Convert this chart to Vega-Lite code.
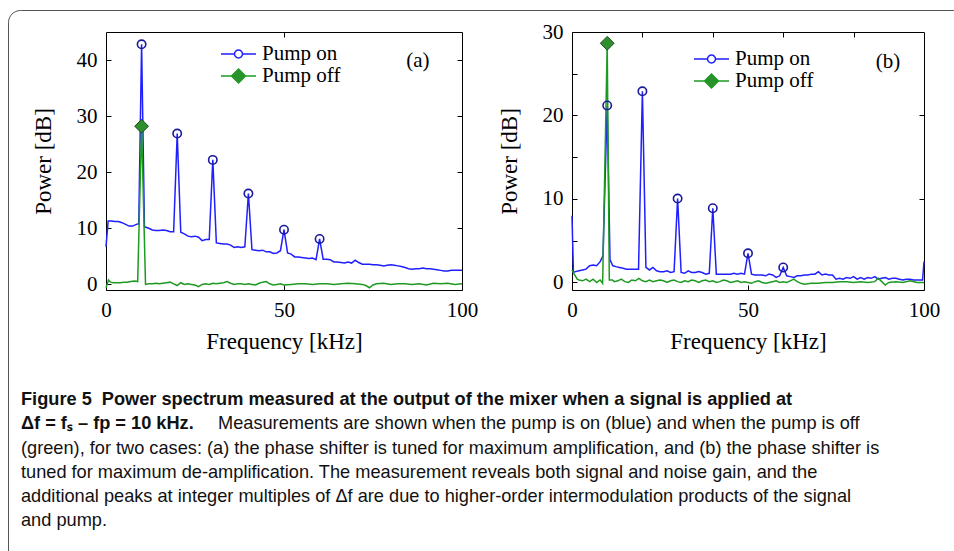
{
  "$schema": "https://vega.github.io/schema/vega-lite/v6.json",
  "background": "white",
  "padding": {"left": 7, "top": 9, "right": 0, "bottom": 0},
  "datasets": {
    "aOn": [{"f":0,"p":6.7},{"f":0.6,"p":11.3},{"f":1.5,"p":11.3},{"f":2.5,"p":11.2},{"f":3.5,"p":11.2},{"f":4.5,"p":11.0},{"f":5.5,"p":10.7},{"f":6.5,"p":10.4},{"f":7.5,"p":10.4},{"f":8.5,"p":10.7},{"f":9.2,"p":10.8},{"f":10,"p":42.8},{"f":10.8,"p":10.3},{"f":12,"p":10.0},{"f":13,"p":9.7},{"f":14,"p":9.6},{"f":15,"p":9.6},{"f":16,"p":9.7},{"f":17,"p":9.6},{"f":18,"p":9.4},{"f":19,"p":9.4},{"f":20,"p":26.9},{"f":21,"p":9.3},{"f":22,"p":9.0},{"f":23,"p":8.6},{"f":24,"p":8.5},{"f":25,"p":8.6},{"f":26,"p":8.4},{"f":27,"p":7.8},{"f":28,"p":8.0},{"f":29,"p":8.0},{"f":30,"p":22.2},{"f":31,"p":7.4},{"f":32,"p":7.3},{"f":33,"p":7.2},{"f":34,"p":7.2},{"f":35,"p":7.0},{"f":36,"p":6.6},{"f":37,"p":6.7},{"f":38,"p":6.6},{"f":39,"p":6.7},{"f":40,"p":16.2},{"f":41,"p":6.2},{"f":42,"p":6.1},{"f":43,"p":6.0},{"f":44,"p":6.1},{"f":45,"p":5.8},{"f":46,"p":5.8},{"f":47,"p":5.5},{"f":48,"p":5.6},{"f":49,"p":6.0},{"f":50,"p":9.75},{"f":51,"p":5.6},{"f":52,"p":5.4},{"f":53,"p":4.9},{"f":54,"p":4.9},{"f":55,"p":4.8},{"f":56,"p":4.7},{"f":57,"p":4.6},{"f":58,"p":4.7},{"f":59,"p":4.4},{"f":60,"p":8.1},{"f":61,"p":4.5},{"f":62,"p":4.5},{"f":63,"p":4.4},{"f":64,"p":4.0},{"f":65,"p":4.0},{"f":66,"p":3.9},{"f":67,"p":3.8},{"f":68,"p":4.0},{"f":69,"p":3.8},{"f":70,"p":4.3},{"f":71,"p":3.9},{"f":72,"p":3.6},{"f":73,"p":3.6},{"f":74,"p":3.6},{"f":75,"p":3.5},{"f":76,"p":3.5},{"f":77,"p":3.4},{"f":78,"p":3.3},{"f":79,"p":3.4},{"f":80,"p":3.5},{"f":81,"p":3.4},{"f":82,"p":3.3},{"f":83,"p":3.2},{"f":84,"p":3.0},{"f":85,"p":2.8},{"f":86,"p":2.7},{"f":87,"p":2.8},{"f":88,"p":2.8},{"f":89,"p":2.9},{"f":90,"p":2.8},{"f":91,"p":2.8},{"f":92,"p":2.7},{"f":93,"p":2.6},{"f":94,"p":2.5},{"f":95,"p":2.4},{"f":96,"p":2.4},{"f":97,"p":2.5},{"f":98,"p":2.5},{"f":99,"p":2.5},{"f":100,"p":2.5}],
    "aOff": [{"f":0,"p":-0.6},{"f":0.7,"p":0.8},{"f":1.3,"p":0.4},{"f":2,"p":0.3},{"f":3,"p":0.3},{"f":4,"p":0.3},{"f":5,"p":0.4},{"f":6,"p":0.4},{"f":7,"p":0.5},{"f":8,"p":0.6},{"f":8.9,"p":0.5},{"f":10,"p":28.2},{"f":11.1,"p":0.0},{"f":12,"p":0.1},{"f":13,"p":0.1},{"f":14,"p":0.2},{"f":15,"p":0.1},{"f":16,"p":0.2},{"f":17,"p":0.3},{"f":18,"p":0.4},{"f":19,"p":0.1},{"f":20,"p":-0.2},{"f":21,"p":0.3},{"f":22,"p":0.0},{"f":23,"p":0.1},{"f":24,"p":0.0},{"f":25,"p":-0.1},{"f":26,"p":-0.4},{"f":27,"p":0.0},{"f":28,"p":0.1},{"f":29,"p":0.0},{"f":30,"p":0.2},{"f":31,"p":0.1},{"f":32,"p":0.2},{"f":33,"p":0.3},{"f":34,"p":0.5},{"f":35,"p":0.2},{"f":36,"p":0.0},{"f":37,"p":0.1},{"f":38,"p":0.1},{"f":39,"p":0.0},{"f":40,"p":0.1},{"f":41,"p":0.0},{"f":42,"p":-0.1},{"f":43,"p":0.2},{"f":44,"p":0.4},{"f":45,"p":0.5},{"f":46,"p":0.1},{"f":47,"p":-0.1},{"f":48,"p":0.0},{"f":49,"p":0.1},{"f":50,"p":-0.1},{"f":52,"p":0.0},{"f":54,"p":0.1},{"f":56,"p":0.1},{"f":58,"p":0.0},{"f":60,"p":0.1},{"f":62,"p":0.1},{"f":64,"p":0.0},{"f":66,"p":0.1},{"f":68,"p":0.2},{"f":70,"p":0.1},{"f":72,"p":0.0},{"f":73,"p":-0.2},{"f":74,"p":-0.6},{"f":75,"p":-0.1},{"f":76,"p":0.1},{"f":78,"p":0.2},{"f":80,"p":0.0},{"f":82,"p":0.1},{"f":84,"p":0.1},{"f":86,"p":0.0},{"f":88,"p":0.1},{"f":90,"p":-0.1},{"f":92,"p":0.2},{"f":94,"p":0.1},{"f":96,"p":0.2},{"f":98,"p":0.0},{"f":100,"p":0.1}],
    "aPk": [{"series":"Pump on","f":10,"p":42.8},{"series":"Pump on","f":20,"p":26.9},{"series":"Pump on","f":30,"p":22.2},{"series":"Pump on","f":40,"p":16.2},{"series":"Pump on","f":50,"p":9.75},{"series":"Pump on","f":60,"p":8.1},{"series":"Pump off","f":10,"p":28.2}],
    "bOn": [{"f":0,"p":8.0},{"f":0.4,"p":1.2},{"f":1,"p":1.3},{"f":2,"p":1.4},{"f":3,"p":1.5},{"f":4,"p":1.6},{"f":5,"p":2.0},{"f":6,"p":2.1},{"f":7,"p":2.0},{"f":8,"p":2.5},{"f":8.8,"p":3.2},{"f":10,"p":21.2},{"f":10.8,"p":2.7},{"f":11.6,"p":2.0},{"f":12.5,"p":1.9},{"f":13.5,"p":1.8},{"f":14.5,"p":1.7},{"f":15.5,"p":1.6},{"f":16.5,"p":1.6},{"f":17.5,"p":1.6},{"f":18.9,"p":1.6},{"f":20,"p":22.9},{"f":21,"p":1.8},{"f":22,"p":1.5},{"f":23,"p":1.8},{"f":24,"p":1.4},{"f":25,"p":1.3},{"f":26,"p":1.3},{"f":27,"p":1.4},{"f":28,"p":1.2},{"f":29,"p":1.3},{"f":30,"p":10.05},{"f":31,"p":1.2},{"f":32,"p":1.1},{"f":33,"p":1.4},{"f":34,"p":1.2},{"f":35,"p":1.2},{"f":36,"p":1.3},{"f":37,"p":1.2},{"f":38,"p":1.0},{"f":39,"p":1.1},{"f":40,"p":8.9},{"f":41,"p":1.0},{"f":42,"p":1.0},{"f":43,"p":1.0},{"f":44,"p":1.0},{"f":45,"p":1.0},{"f":46,"p":1.1},{"f":47,"p":1.0},{"f":48,"p":1.1},{"f":49,"p":1.0},{"f":50,"p":3.5},{"f":51,"p":1.0},{"f":52,"p":0.9},{"f":53,"p":0.9},{"f":54,"p":0.9},{"f":55,"p":0.8},{"f":56,"p":1.0},{"f":57,"p":0.9},{"f":58,"p":0.6},{"f":59,"p":0.8},{"f":60,"p":1.8},{"f":61,"p":0.8},{"f":62,"p":0.7},{"f":63,"p":0.6},{"f":64,"p":0.8},{"f":65,"p":0.8},{"f":66,"p":0.9},{"f":67,"p":0.9},{"f":68,"p":1.0},{"f":69,"p":1.0},{"f":70,"p":1.3},{"f":71,"p":0.9},{"f":72,"p":1.0},{"f":73,"p":0.9},{"f":74,"p":0.9},{"f":75,"p":0.4},{"f":76,"p":0.5},{"f":77,"p":0.4},{"f":78,"p":0.6},{"f":79,"p":0.5},{"f":80,"p":0.7},{"f":81,"p":0.4},{"f":82,"p":0.6},{"f":83,"p":0.4},{"f":84,"p":0.6},{"f":85,"p":0.5},{"f":86,"p":0.7},{"f":87,"p":0.4},{"f":88,"p":0.5},{"f":89,"p":0.6},{"f":90,"p":0.4},{"f":91,"p":0.5},{"f":92,"p":0.5},{"f":93,"p":0.4},{"f":94,"p":0.3},{"f":95,"p":0.4},{"f":96,"p":0.4},{"f":97,"p":0.3},{"f":98,"p":0.3},{"f":99.6,"p":0.3},{"f":100,"p":2.5}],
    "bOff": [{"f":0,"p":1.5},{"f":0.5,"p":1.1},{"f":1.5,"p":0.4},{"f":2,"p":0.3},{"f":3,"p":0.2},{"f":4,"p":0.4},{"f":5,"p":0.1},{"f":6,"p":0.4},{"f":7,"p":0.0},{"f":8,"p":0.3},{"f":8.7,"p":-0.1},{"f":10,"p":28.65},{"f":10.6,"p":0.3},{"f":11.5,"p":0.3},{"f":12,"p":0.1},{"f":13,"p":0.2},{"f":14,"p":0.4},{"f":15,"p":0.1},{"f":16,"p":0.0},{"f":17,"p":0.3},{"f":18,"p":0.2},{"f":19,"p":0.5},{"f":20,"p":0.2},{"f":21,"p":0.1},{"f":22,"p":0.3},{"f":23,"p":0.1},{"f":24,"p":0.2},{"f":25,"p":0.3},{"f":26,"p":0.2},{"f":27,"p":0.0},{"f":28,"p":0.2},{"f":29,"p":0.3},{"f":30,"p":0.1},{"f":31,"p":0.0},{"f":32,"p":0.2},{"f":33,"p":0.1},{"f":34,"p":0.3},{"f":35,"p":0.2},{"f":36,"p":0.0},{"f":37,"p":0.2},{"f":38,"p":0.3},{"f":39,"p":0.1},{"f":40,"p":0.2},{"f":41,"p":0.0},{"f":42,"p":0.1},{"f":43,"p":0.3},{"f":44,"p":0.2},{"f":45,"p":0.0},{"f":46,"p":0.1},{"f":47,"p":0.2},{"f":48,"p":0.0},{"f":49,"p":0.1},{"f":50,"p":0.0},{"f":51,"p":-0.1},{"f":52,"p":0.1},{"f":53,"p":0.2},{"f":54,"p":0.0},{"f":55,"p":-0.1},{"f":56,"p":0.0},{"f":57,"p":0.1},{"f":58,"p":0.2},{"f":59,"p":0.0},{"f":60,"p":0.1},{"f":61,"p":0.0},{"f":62,"p":0.2},{"f":63,"p":0.4},{"f":64,"p":0.1},{"f":65,"p":-0.1},{"f":66,"p":-0.2},{"f":68,"p":-0.1},{"f":70,"p":-0.1},{"f":72,"p":0.0},{"f":74,"p":0.0},{"f":76,"p":0.1},{"f":78,"p":0.1},{"f":80,"p":0.0},{"f":82,"p":0.1},{"f":84,"p":0.0},{"f":86,"p":0.1},{"f":87,"p":0.5},{"f":88,"p":0.1},{"f":89,"p":-0.3},{"f":90,"p":0.0},{"f":92,"p":0.1},{"f":94,"p":0.0},{"f":96,"p":0.2},{"f":98,"p":0.0},{"f":100,"p":0.0}],
    "bPk": [{"series":"Pump on","f":10,"p":21.2},{"series":"Pump on","f":20,"p":22.9},{"series":"Pump on","f":30,"p":10.05},{"series":"Pump on","f":40,"p":8.9},{"series":"Pump on","f":50,"p":3.5},{"series":"Pump on","f":60,"p":1.8},{"series":"Pump off","f":10,"p":28.65}],
    "capBold": [{"line":1,"text":"Figure 5\u00a0\u00a0Power spectrum measured at the output of the mixer when a signal is applied at"},{"line":2,"text":"Δf = fₛ – fp = 10 kHz."}],
    "capReg": [{"line":2,"text":"Measurements are shown when the pump is on (blue) and when the pump is off"},{"line":3,"text":"(green), for two cases: (a) the phase shifter is tuned for maximum amplification, and (b) the phase shifter is"},{"line":4,"text":"tuned for maximum de-amplification. The measurement reveals both signal and noise gain, and the"},{"line":5,"text":"additional peaks at integer multiples of Δf are due to higher-order intermodulation products of the signal"},{"line":6,"text":"and pump."}]
  },
  "bounds": "flush",
  "spacing": 0,
  "vconcat": [
    {
      "bounds": "flush",
      "spacing": 97,
      "hconcat": [
        {"width": 1, "height": 1, "view": {"stroke": null}, "data": {"values": []}, "mark": "point"},
        {
          "bounds": "flush",
          "spacing": 21,
          "vconcat": [
            {"width": 1, "height": 1, "view": {"stroke": null}, "data": {"values": []}, "mark": "point"},
            {
              "bounds": "flush",
              "spacing": 110,
              "resolve": {"scale": {"shape": "independent", "stroke": "independent", "fill": "independent"}, "legend": {"shape": "independent", "stroke": "independent", "fill": "independent"}},
              "hconcat": [
                {
                  "width": 356, "height": 258,
                  "resolve": {"axis": {"x": "independent", "y": "independent"}, "scale": {"shape": "independent", "stroke": "independent", "fill": "independent"}, "legend": {"shape": "independent", "stroke": "independent", "fill": "independent"}},
                  "layer": [
                    {"data": {"name": "aOn"}, "mark": {"type": "line", "color": "#1f1fff", "strokeWidth": 1.5},
                     "encoding": {
                       "x": {"field": "f", "type": "quantitative", "scale": {"domain": [0, 100], "nice": false, "zero": false}, "axis": {"orient": "bottom", "values": [0, 50, 100], "title": "Frequency [kHz]"}},
                       "y": {"field": "p", "type": "quantitative", "scale": {"domain": [-1, 45], "nice": false, "zero": false}, "axis": {"orient": "left", "values": [0, 10, 20, 30, 40], "title": "Power [dB]"}}}},
                    {"data": {"name": "aOff"}, "mark": {"type": "line", "color": "#1e9a22", "strokeWidth": 1.5},
                     "encoding": {
                       "x": {"field": "f", "type": "quantitative", "scale": {"domain": [0, 100], "nice": false, "zero": false}, "axis": {"orient": "top", "values": [50], "labels": false, "title": null}},
                       "y": {"field": "p", "type": "quantitative", "scale": {"domain": [-1, 45], "nice": false, "zero": false}, "axis": {"orient": "right", "values": [10, 20, 30, 40], "labels": false, "title": null}}}},
                    {"data": {"name": "aPk"}, "transform": [{"filter": "datum.series == 'Pump on'"}],
                     "mark": {"type": "point", "shape": "circle", "filled": false, "stroke": "#1a1a9a", "strokeWidth": 1.6, "size": 70, "opacity": 1},
                     "encoding": {
                       "x": {"field": "f", "type": "quantitative", "scale": {"domain": [0, 100], "nice": false, "zero": false}, "axis": null},
                       "y": {"field": "p", "type": "quantitative", "scale": {"domain": [-1, 45], "nice": false, "zero": false}, "axis": null}}},
                    {"data": {"name": "aPk"}, "transform": [{"filter": "datum.series == 'Pump off'"}],
                     "mark": {"type": "point", "shape": "diamond", "filled": true, "fill": "#2f8f2f", "stroke": "#1d4a1d", "strokeWidth": 1, "size": 190, "opacity": 1},
                     "encoding": {
                       "x": {"field": "f", "type": "quantitative", "scale": {"domain": [0, 100], "nice": false, "zero": false}, "axis": null},
                       "y": {"field": "p", "type": "quantitative", "scale": {"domain": [-1, 45], "nice": false, "zero": false}, "axis": null}}},
                    {"data": {"name": "aPk"}, "transform": [{"filter": "datum.series == 'Pump on'"}],
                     "mark": {"type": "point", "opacity": 0},
                     "encoding": {
                       "x": {"field": "f", "type": "quantitative", "scale": {"domain": [0, 100], "nice": false, "zero": false}, "axis": null},
                       "y": {"field": "p", "type": "quantitative", "scale": {"domain": [-1, 45], "nice": false, "zero": false}, "axis": null},
                       "shape": {"field": "series", "type": "nominal", "scale": {"domain": ["Pump on"], "range": ["M-2.06,0H-0.47M0.47,0H2.06M0.47,0A0.47,0.47,0,1,1,-0.47,0A0.47,0.47,0,1,1,0.47,0"]}, "legend": {"orient": "none", "legendX": 122, "legendY": 11.5, "title": null}},
                       "stroke": {"field": "series", "type": "nominal", "scale": {"domain": ["Pump on"], "range": ["#1f1fff"]}, "legend": {"orient": "none", "legendX": 122, "legendY": 11.5, "title": null}},
                       "fill": {"field": "series", "type": "nominal", "scale": {"domain": ["Pump on"], "range": ["#ffffff"]}, "legend": {"orient": "none", "legendX": 122, "legendY": 11.5, "title": null}}}},
                    {"data": {"name": "aPk"}, "transform": [{"filter": "datum.series == 'Pump off'"}],
                     "mark": {"type": "point", "opacity": 0},
                     "encoding": {
                       "x": {"field": "f", "type": "quantitative", "scale": {"domain": [0, 100], "nice": false, "zero": false}, "axis": null},
                       "y": {"field": "p", "type": "quantitative", "scale": {"domain": [-1, 45], "nice": false, "zero": false}, "axis": null},
                       "shape": {"field": "series", "type": "nominal", "scale": {"domain": ["Pump off"], "range": ["M-2.06,0H2.06M0,-0.82L0.82,0L0,0.82L-0.82,0Z"]}, "legend": {"orient": "none", "legendX": 122, "legendY": 33.5, "title": null}},
                       "stroke": {"field": "series", "type": "nominal", "scale": {"domain": ["Pump off"], "range": ["#1e9a22"]}, "legend": {"orient": "none", "legendX": 122, "legendY": 33.5, "title": null}},
                       "fill": {"field": "series", "type": "nominal", "scale": {"domain": ["Pump off"], "range": ["#2f8f2f"]}, "legend": {"orient": "none", "legendX": 122, "legendY": 33.5, "title": null}}}},
                    {"data": {"values": [{"label": "(a)"}]},
                     "mark": {"type": "text", "font": "Liberation Serif", "fontSize": 21, "align": "center", "baseline": "middle", "color": "#000"},
                     "encoding": {
                       "x": {"datum": 87.6, "type": "quantitative", "scale": {"domain": [0, 100], "nice": false, "zero": false}, "axis": null},
                       "y": {"datum": 39.9, "type": "quantitative", "scale": {"domain": [-1, 45], "nice": false, "zero": false}, "axis": null},
                       "text": {"field": "label"}}}
                  ]
                },
                {
                  "width": 352, "height": 258,
                  "resolve": {"axis": {"x": "independent", "y": "independent"}, "scale": {"shape": "independent", "stroke": "independent", "fill": "independent"}, "legend": {"shape": "independent", "stroke": "independent", "fill": "independent"}},
                  "layer": [
                    {"data": {"name": "bOn"}, "mark": {"type": "line", "color": "#1f1fff", "strokeWidth": 1.5},
                     "encoding": {
                       "x": {"field": "f", "type": "quantitative", "scale": {"domain": [0, 100], "nice": false, "zero": false}, "axis": {"orient": "bottom", "values": [0, 50, 100], "title": "Frequency [kHz]"}},
                       "y": {"field": "p", "type": "quantitative", "scale": {"domain": [-0.9, 30], "nice": false, "zero": false}, "axis": {"orient": "left", "values": [0, 5, 10, 15, 20, 25, 30], "labelExpr": "datum.value % 10 == 0 ? datum.label : ''", "title": "Power [dB]"}}}},
                    {"data": {"name": "bOff"}, "mark": {"type": "line", "color": "#1e9a22", "strokeWidth": 1.5},
                     "encoding": {
                       "x": {"field": "f", "type": "quantitative", "scale": {"domain": [0, 100], "nice": false, "zero": false}, "axis": {"orient": "top", "values": [20, 40, 60, 80], "labels": false, "title": null}},
                       "y": {"field": "p", "type": "quantitative", "scale": {"domain": [-0.9, 30], "nice": false, "zero": false}, "axis": {"orient": "right", "values": [10, 20], "labels": false, "title": null}}}},
                    {"data": {"name": "bPk"}, "transform": [{"filter": "datum.series == 'Pump on'"}],
                     "mark": {"type": "point", "shape": "circle", "filled": false, "stroke": "#1a1a9a", "strokeWidth": 1.6, "size": 70, "opacity": 1},
                     "encoding": {
                       "x": {"field": "f", "type": "quantitative", "scale": {"domain": [0, 100], "nice": false, "zero": false}, "axis": null},
                       "y": {"field": "p", "type": "quantitative", "scale": {"domain": [-0.9, 30], "nice": false, "zero": false}, "axis": null}}},
                    {"data": {"name": "bPk"}, "transform": [{"filter": "datum.series == 'Pump off'"}],
                     "mark": {"type": "point", "shape": "diamond", "filled": true, "fill": "#2f8f2f", "stroke": "#1d4a1d", "strokeWidth": 1, "size": 190, "opacity": 1},
                     "encoding": {
                       "x": {"field": "f", "type": "quantitative", "scale": {"domain": [0, 100], "nice": false, "zero": false}, "axis": null},
                       "y": {"field": "p", "type": "quantitative", "scale": {"domain": [-0.9, 30], "nice": false, "zero": false}, "axis": null}}},
                    {"data": {"name": "bPk"}, "transform": [{"filter": "datum.series == 'Pump on'"}],
                     "mark": {"type": "point", "opacity": 0},
                     "encoding": {
                       "x": {"field": "f", "type": "quantitative", "scale": {"domain": [0, 100], "nice": false, "zero": false}, "axis": null},
                       "y": {"field": "p", "type": "quantitative", "scale": {"domain": [-0.9, 30], "nice": false, "zero": false}, "axis": null},
                       "shape": {"field": "series", "type": "nominal", "scale": {"domain": ["Pump on"], "range": ["M-2.06,0H-0.47M0.47,0H2.06M0.47,0A0.47,0.47,0,1,1,-0.47,0A0.47,0.47,0,1,1,0.47,0"]}, "legend": {"orient": "none", "legendX": 129, "legendY": 16.5, "title": null}},
                       "stroke": {"field": "series", "type": "nominal", "scale": {"domain": ["Pump on"], "range": ["#1f1fff"]}, "legend": {"orient": "none", "legendX": 129, "legendY": 16.5, "title": null}},
                       "fill": {"field": "series", "type": "nominal", "scale": {"domain": ["Pump on"], "range": ["#ffffff"]}, "legend": {"orient": "none", "legendX": 129, "legendY": 16.5, "title": null}}}},
                    {"data": {"name": "bPk"}, "transform": [{"filter": "datum.series == 'Pump off'"}],
                     "mark": {"type": "point", "opacity": 0},
                     "encoding": {
                       "x": {"field": "f", "type": "quantitative", "scale": {"domain": [0, 100], "nice": false, "zero": false}, "axis": null},
                       "y": {"field": "p", "type": "quantitative", "scale": {"domain": [-0.9, 30], "nice": false, "zero": false}, "axis": null},
                       "shape": {"field": "series", "type": "nominal", "scale": {"domain": ["Pump off"], "range": ["M-2.06,0H2.06M0,-0.82L0.82,0L0,0.82L-0.82,0Z"]}, "legend": {"orient": "none", "legendX": 129, "legendY": 38.5, "title": null}},
                       "stroke": {"field": "series", "type": "nominal", "scale": {"domain": ["Pump off"], "range": ["#1e9a22"]}, "legend": {"orient": "none", "legendX": 129, "legendY": 38.5, "title": null}},
                       "fill": {"field": "series", "type": "nominal", "scale": {"domain": ["Pump off"], "range": ["#2f8f2f"]}, "legend": {"orient": "none", "legendX": 129, "legendY": 38.5, "title": null}}}},
                    {"data": {"values": [{"label": "(b)"}]},
                     "mark": {"type": "text", "font": "Liberation Serif", "fontSize": 21, "align": "center", "baseline": "middle", "color": "#000"},
                     "encoding": {
                       "x": {"datum": 89.8, "type": "quantitative", "scale": {"domain": [0, 100], "nice": false, "zero": false}, "axis": null},
                       "y": {"datum": 26.4, "type": "quantitative", "scale": {"domain": [-0.9, 30], "nice": false, "zero": false}, "axis": null},
                       "text": {"field": "label"}}}
                  ]
                }
              ]
            }
          ]
        }
      ]
    },
    {
      "width": 960, "height": 560,
      "view": {"stroke": "#555555", "strokeWidth": 1, "cornerRadius": 12, "fill": null},
      "layer": [
        {"data": {"name": "capBold"},
         "mark": {"type": "text", "font": "Liberation Sans", "fontSize": 18.2, "fontWeight": "bold", "align": "left", "baseline": "middle", "dx": 13, "color": "#111"},
         "encoding": {"x": {"value": 0}, "y": {"field": "line", "type": "quantitative", "scale": {"domain": [-15.12, 8.02], "reverse": true, "nice": false, "zero": false}, "axis": null}, "text": {"field": "text"}}},
        {"data": {"name": "capReg"}, "transform": [{"filter": "datum.line == 2"}],
         "mark": {"type": "text", "font": "Liberation Sans", "fontSize": 18.2, "align": "left", "baseline": "middle", "dx": 210, "color": "#111"},
         "encoding": {"x": {"value": 0}, "y": {"field": "line", "type": "quantitative", "scale": {"domain": [-15.12, 8.02], "reverse": true, "nice": false, "zero": false}, "axis": null}, "text": {"field": "text"}}},
        {"data": {"name": "capReg"}, "transform": [{"filter": "datum.line > 2"}],
         "mark": {"type": "text", "font": "Liberation Sans", "fontSize": 18.2, "align": "left", "baseline": "middle", "dx": 13, "color": "#111"},
         "encoding": {"x": {"value": 0}, "y": {"field": "line", "type": "quantitative", "scale": {"domain": [-15.12, 8.02], "reverse": true, "nice": false, "zero": false}, "axis": null}, "text": {"field": "text"}}}
      ]
    }
  ],
  "config": {
    "view": {"stroke": "#000", "strokeWidth": 1},
    "axis": {"grid": false, "domain": false, "tickColor": "#000", "tickSize": -5, "tickWidth": 1, "labelFont": "Liberation Serif", "labelFontSize": 21, "labelColor": "#000", "labelFlush": false, "labelPadding": 12, "titleFont": "Liberation Serif", "titleFontSize": 23, "titleFontWeight": "normal", "titleColor": "#000"},
    "axisX": {"titlePadding": 10, "labelPadding": 14},
    "axisY": {"titlePadding": 21, "labelPadding": 14},
    "legend": {"labelFont": "Liberation Serif", "labelFontSize": 21, "labelColor": "#000", "symbolSize": 289, "symbolStrokeWidth": 1.5, "symbolOpacity": 1, "labelOffset": 13, "padding": 0}
  }
}
